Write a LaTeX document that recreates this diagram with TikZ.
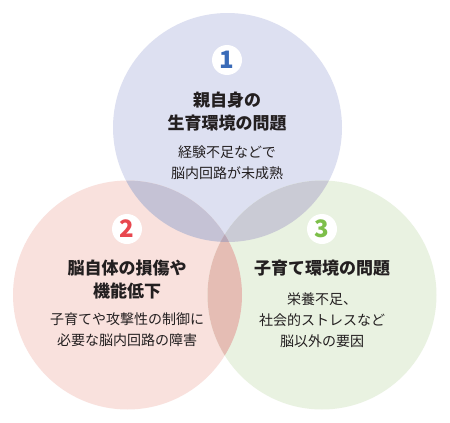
\documentclass[tikz,border=0pt]{standalone}
\usepackage{fontspec}
\setmainfont{Noto Sans CJK JP}
\definecolor{cA}{HTML}{DDE0F1}
\definecolor{cB}{HTML}{F9E1DD}
\definecolor{cC}{HTML}{E9F2E1}
\definecolor{cAB}{HTML}{C5C2D5}
\definecolor{cAC}{HTML}{CACBD5}
\definecolor{cBC}{HTML}{E5BDB4}
\definecolor{cABC}{HTML}{B8A8B8}
\definecolor{txt}{HTML}{231F20}
\definecolor{nblue}{HTML}{3A6BB8}
\definecolor{nred}{HTML}{E8474F}
\definecolor{ngreen}{HTML}{7DBF4A}
\tikzset{
  numdisc/.style={circle, fill=white, minimum size=30pt, inner sep=0pt, font=\fontsize{24}{24}\selectfont\bfseries},
  title/.style={align=center, text=txt, inner sep=0pt, font=\fontsize{17}{23}\selectfont\bfseries},
  body/.style={align=center, text=txt, inner sep=0pt, font=\fontsize{14}{21}\selectfont},
}
\begin{document}
\begin{tikzpicture}[x=1pt,y=-1pt]
\useasboundingbox[fill=white] (0,0) rectangle (450,423);
\def\R{114.5}
\coordinate (ca) at (227.5,127.5);
\coordinate (cb) at (127.5,295);
\coordinate (cc) at (322,295);
% base circles
\fill[cA] (ca) circle (\R);
\fill[cB] (cb) circle (\R);
\fill[cC] (cc) circle (\R);
% pairwise overlaps
\begin{scope}
  \clip (ca) circle (\R);
  \fill[cAB] (cb) circle (\R);
  \fill[cAC] (cc) circle (\R);
\end{scope}
\begin{scope}
  \clip (cb) circle (\R);
  \fill[cBC] (cc) circle (\R);
\end{scope}
\begin{scope}
  \clip (ca) circle (\R);
  \clip (cb) circle (\R);
  \fill[cABC] (cc) circle (\R);
\end{scope}
% circle 1
\node[numdisc, text=nblue] (n1) at (227,60) {1};
\node[title] (t1) at (227,111.5) {親自身の\\生育環境の問題};
\node[body] (b1) at (227,162.5) {経験不足などで\\脳内回路が未成熟};
% circle 2
\node[numdisc, text=nred] (n2) at (127,229) {2};
\node[title] (t2) at (127,279.5) {脳自体の損傷や\\機能低下};
\node[body] (b2) at (127,330) {子育てや攻撃性の制御に\\必要な脳内回路の障害};
% circle 3
\node[numdisc, text=ngreen] (n3) at (322,229) {3};
\node[title] (t3) at (322,268) {子育て環境の問題};
\node[body] (b3) at (322,320.5) {栄養不足、\\社会的ストレスなど\\脳以外の要因};
\end{tikzpicture}
\end{document}
